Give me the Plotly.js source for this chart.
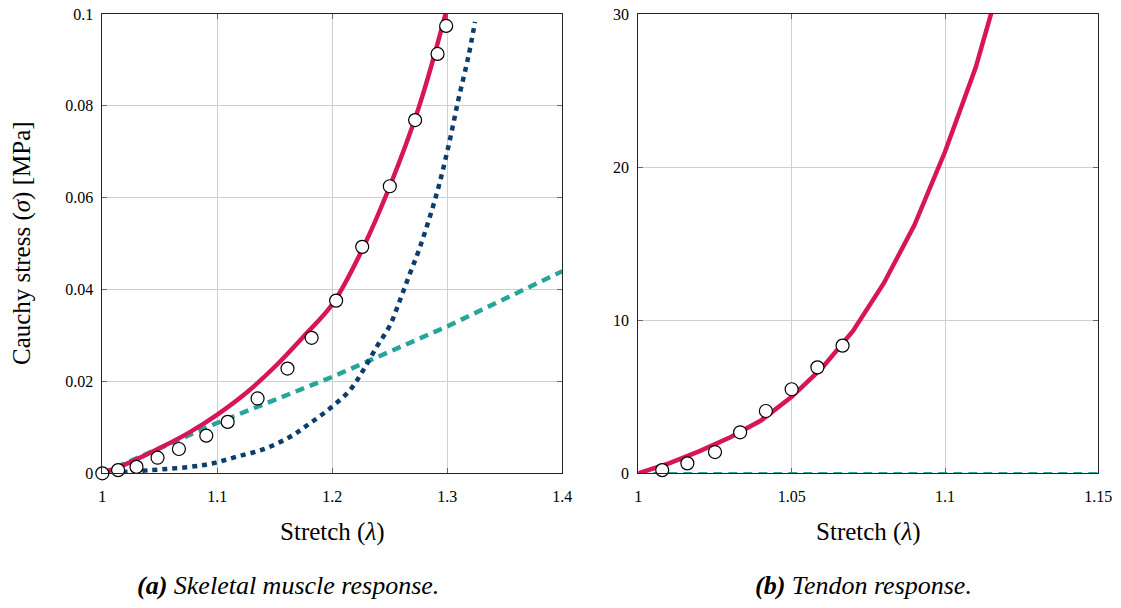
<!DOCTYPE html>
<html><head><meta charset="utf-8">
<script src="https://cdn.plot.ly/plotly-3.0.1.min.js"></script>
<style>html,body{margin:0;padding:0;background:#fff;}</style>
</head><body><div id="chart" style="width:1121px;height:608px;"></div>
<script>
// (a) Skeletal muscle
const muscleModelX = [1.0, 1.025, 1.05, 1.075, 1.1, 1.125, 1.15, 1.175, 1.2, 1.225, 1.25, 1.275, 1.3, 1.31];
const muscleModelY = [0, 0.0025, 0.0055, 0.0088, 0.0128, 0.0175, 0.0232, 0.0298, 0.0368, 0.0482, 0.0625, 0.0795, 0.1015, 0.112];
const muscleLinX = [1.0, 1.05, 1.1, 1.15, 1.2, 1.25, 1.3, 1.35, 1.4];
const muscleLinY = [0, 0.0056, 0.011, 0.016, 0.021, 0.0265, 0.032, 0.038, 0.044];
const muscleExpX = [1.0, 1.0424, 1.0758, 1.0962, 1.1165, 1.1397, 1.163, 1.18, 1.1978, 1.2153, 1.2268, 1.2385, 1.2501, 1.2588, 1.2675, 1.2763, 1.2908, 1.3009, 1.3096, 1.3183, 1.3241];
const muscleExpY = [0, 0.0007, 0.0014, 0.0022, 0.0036, 0.0052, 0.0079, 0.0108, 0.0141, 0.0181, 0.0224, 0.0275, 0.0322, 0.0377, 0.0435, 0.0493, 0.0609, 0.0711, 0.0813, 0.0907, 0.0983];
const muscleDataX = [1.0, 1.0137, 1.0297, 1.048, 1.0666, 1.0904, 1.109, 1.135, 1.161, 1.182, 1.2033, 1.226, 1.25, 1.272, 1.2915, 1.299];
const muscleDataY = [0, 0.0007, 0.0014, 0.0034, 0.0053, 0.0082, 0.0112, 0.0163, 0.0228, 0.0295, 0.0376, 0.0493, 0.0625, 0.0769, 0.0913, 0.0974];
// (b) Tendon
const tendonModelX = [1.0, 1.01, 1.02, 1.03, 1.04, 1.05, 1.06, 1.07, 1.08, 1.09, 1.1, 1.11, 1.12];
const tendonModelY = [0, 0.65, 1.45, 2.35, 3.45, 5.0, 6.9, 9.3, 12.4, 16.2, 21.0, 26.5, 33.5];
const tendonLinX = [1.0, 1.05, 1.1, 1.15];
const tendonLinY = [0, 0, 0, 0];
const tendonDataX = [1.0078, 1.016, 1.025, 1.0332, 1.0416, 1.05, 1.0584, 1.0666];
const tendonDataY = [0.21, 0.65, 1.39, 2.68, 4.07, 5.49, 6.92, 8.34];

const red = '#d81559', teal = '#26a69a', navy = '#0c3d6c';
const marker = {symbol:'circle', size:13, color:'#fff', line:{color:'#000', width:1.2}};

const traces = [
  {x:muscleLinX, y:muscleLinY, mode:'lines', line:{color:teal, width:4.5, dash:'9px,6px'}, xaxis:'x', yaxis:'y'},
  {x:muscleExpX, y:muscleExpY, mode:'lines', line:{color:navy, width:4.5, dash:'5px,5px', shape:'spline'}, xaxis:'x', yaxis:'y'},
  {x:muscleModelX, y:muscleModelY, mode:'lines', line:{color:red, width:4.5, shape:'spline'}, xaxis:'x', yaxis:'y'},
  {x:muscleDataX, y:muscleDataY, mode:'markers', marker:marker, xaxis:'x', yaxis:'y', cliponaxis:false},
  {x:tendonLinX, y:tendonLinY, mode:'lines', line:{color:teal, width:2.5, dash:'9px,6px'}, xaxis:'x2', yaxis:'y2'},
  {x:tendonModelX, y:tendonModelY, mode:'lines', line:{color:red, width:4.5}, xaxis:'x2', yaxis:'y2'},
  {x:tendonDataX, y:tendonDataY, mode:'markers', marker:marker, xaxis:'x2', yaxis:'y2', cliponaxis:false}
];

const fam = 'Liberation Serif, DejaVu Serif, serif';
const font = {family:fam, color:'#000'};
const axBase = {showline:true, linecolor:'#222', linewidth:1, mirror:'ticks', ticks:'inside', ticklen:5, tickcolor:'#666',
  showgrid:true, gridcolor:'#cfcfcf', gridwidth:1, zeroline:false, ticklabelstandoff:8, tickfont:{size:16, family:fam, color:'#000'}};

const layout = {
  width:1121, height:608, margin:{l:0, r:0, t:0, b:0}, showlegend:false,
  paper_bgcolor:'#fff', plot_bgcolor:'#fff', font:font,
  xaxis: Object.assign({}, axBase, {domain:[0.0913, 0.5016], range:[1, 1.4], tickvals:[1,1.1,1.2,1.3,1.4], ticktext:['1','1.1','1.2','1.3','1.4'],
    title:{text:'Stretch (<i>λ</i>)', font:{size:25, family:fam}, standoff:18}}),
  yaxis: Object.assign({}, axBase, {domain:[0.2215, 0.977], range:[0, 0.1], tickvals:[0,0.02,0.04,0.06,0.08,0.1], ticktext:['0','0.02','0.04','0.06','0.08','0.1'],
    ticklabelstandoff:5}),
  xaxis2: Object.assign({}, axBase, {domain:[0.5694, 0.9798], range:[1, 1.15], anchor:'y2', tickvals:[1,1.05,1.1,1.15], ticktext:['1','1.05','1.1','1.15'],
    title:{text:'Stretch (<i>λ</i>)', font:{size:25, family:fam}, standoff:18}}),
  yaxis2: Object.assign({}, axBase, {domain:[0.2215, 0.977], range:[0, 30], anchor:'x2', ticklabelstandoff:5, tickvals:[0,10,20,30], ticktext:['0','10','20','30']}),
  annotations:[
    {text:'Cauchy stress (<i>σ</i>) [MPa]', xref:'paper', yref:'paper', x:22/1121, y:1-243/608, xanchor:'center', yanchor:'middle', textangle:-90, showarrow:false, font:{size:25, family:fam}},
    {text:'<b><i>(a)</i></b><i> Skeletal muscle response.</i>', xref:'paper', yref:'paper', x:288/1121, y:1-585/608, xanchor:'center', yanchor:'middle', showarrow:false, font:{size:26, family:fam}},
    {text:'<b><i>(b)</i></b><i> Tendon response.</i>', xref:'paper', yref:'paper', x:863/1121, y:1-585/608, xanchor:'center', yanchor:'middle', showarrow:false, font:{size:26, family:fam}}
  ]
};
Plotly.newPlot('chart', traces, layout, {displayModeBar:false, staticPlot:true});
</script></body></html>
